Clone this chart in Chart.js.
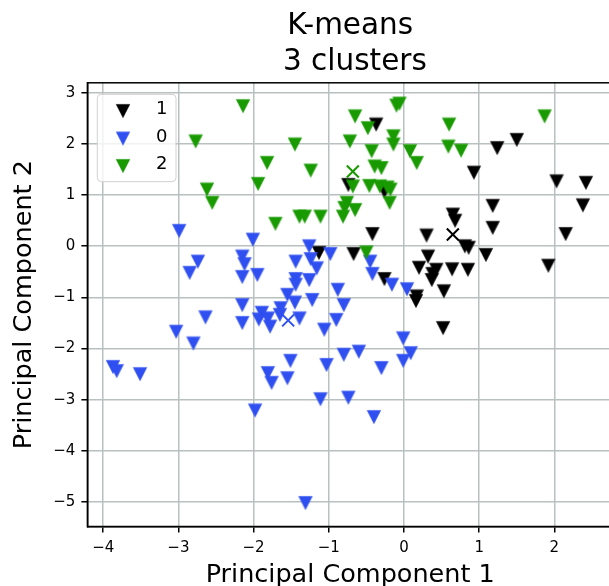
<!DOCTYPE html>
<html><head><meta charset="utf-8">
<script src="https://cdn.jsdelivr.net/npm/chart.js@4/dist/chart.umd.min.js"></script>
<style>
html,body{margin:0;padding:0;background:#fff;overflow:hidden;width:609px;height:586px}
#wrap{position:absolute;left:0;top:0;width:640px;height:586px}
</style>
</head><body><div id="wrap"><canvas id="c" width="640" height="586"></canvas></div>
<script>
// ---- data ----
const clusterLabels = ['1', '0', '2'];
const clusterColors = ['#000000', '#2f4ff0', '#189a00'];

const cluster1X = [-0.37, 1.50, 1.24, 0.93, 2.03, 2.42, 2.38, 1.18, -0.74, -0.26, 0.65, 0.68, 1.18, 2.15, -0.42, 0.30, 0.81, 0.86, 1.09, -0.67, 0.32, 0.20, 0.43, 0.38, 0.37, 0.64, 0.85, 1.92, -0.26, 0.17, 0.16, 0.53, 0.52, -1.13];
const cluster1Y = [2.38, 2.08, 1.92, 1.44, 1.27, 1.24, 0.80, 0.79, 1.20, 1.07, 0.62, 0.50, 0.36, 0.24, 0.24, 0.21, 0.00, -0.03, -0.17, -0.15, -0.20, -0.42, -0.46, -0.54, -0.66, -0.45, -0.46, -0.38, -0.64, -0.98, -1.07, -0.88, -1.60, -0.13];

const cluster0X = [-2.99, -2.01, -2.74, -2.85, -2.15, -2.12, -2.15, -1.95, -1.26, -1.24, -1.16, -0.98, -1.44, -1.44, -1.44, -1.26, -0.88, -1.55, -1.45, -1.22, -0.80, -1.64, -1.65, -1.89, -1.93, -1.81, -1.78, -1.39, -2.15, -2.15, -2.64, -3.03, -2.80, -0.90, -1.06, -3.87, -3.82, -3.51, -1.81, -1.76, -1.51, -1.55, -1.03, -0.80, -1.11, -0.74, -1.98, -1.31, -0.40, -0.45, -0.42, -0.16, 0.04, -0.01, 0.09, -0.01, -0.60, -0.30];
const cluster0Y = [0.30, 0.13, -0.30, -0.52, -0.20, -0.35, -0.60, -0.56, 0.00, -0.25, -0.43, -0.15, -0.30, -0.64, -0.75, -0.66, -0.85, -0.95, -1.10, -1.05, -1.15, -1.21, -1.34, -1.30, -1.43, -1.41, -1.57, -1.41, -1.15, -1.50, -1.39, -1.67, -1.90, -1.44, -1.63, -2.36, -2.44, -2.50, -2.48, -2.67, -2.24, -2.58, -2.32, -2.12, -2.99, -2.96, -3.21, -5.02, -3.34, -0.30, -0.54, -0.75, -0.84, -1.80, -2.09, -2.24, -2.06, -2.38];

const cluster2X = [-2.14, -2.77, -1.45, -1.82, -1.24, -1.94, -2.62, -2.55, -1.71, -1.39, -1.32, -1.11, -0.10, -0.06, -0.65, -0.48, 0.60, 1.87, -0.72, -0.14, -0.14, -0.43, 0.59, 0.76, 0.08, 0.17, -0.39, -0.30, -0.68, -0.46, -0.32, -0.18, -0.22, -0.19, -0.76, -0.79, -0.81, -0.65, -0.50];
const cluster2Y = [2.74, 2.05, 1.99, 1.63, 1.48, 1.22, 1.11, 0.85, 0.44, 0.58, 0.58, 0.58, 2.75, 2.79, 2.54, 2.31, 2.38, 2.54, 2.05, 2.15, 1.99, 1.86, 1.95, 1.87, 1.86, 1.63, 1.56, 1.53, 1.17, 1.18, 1.17, 1.11, 1.15, 0.85, 0.85, 0.75, 0.58, 0.71, -0.12];

// centroids, same order as clusterLabels
const centroidX = [0.65, -1.54, -0.68];
const centroidY = [0.23, -1.45, 1.46];

const xTicks = [-4, -3, -2, -1, 0, 1, 2];
const yTicks = [-5, -4, -3, -2, -1, 0, 1, 2, 3];

const titleLines = ['K-means', ' 3 clusters'];
const xTitle = 'Principal Component 1';
const yTitle = 'Principal Component 2';

// ---- chart ----
const FONT = 'DejaVu Sans';
const pts = (xs, ys) => xs.map((x, i) => ({x: x, y: ys[i]}));
const seriesX = [cluster1X, cluster0X, cluster2X];
const seriesY = [cluster1Y, cluster0Y, cluster2Y];
const fmt = v => (v < 0 ? '\u2212' + Math.abs(v) : String(v));

// matplotlib-like 'v' marker (equal width and height)
function triMarker(color) {
  const c = document.createElement('canvas');
  c.width = 16; c.height = 16;
  const g = c.getContext('2d');
  g.fillStyle = color;
  g.strokeStyle = color;
  g.lineWidth = 0.6;
  g.beginPath();
  g.moveTo(1.3, 1.4);
  g.lineTo(14.7, 1.4);
  g.lineTo(8, 14.6);
  g.closePath();
  g.fill();
  g.stroke();
  return c;
}
const markers = clusterColors.map(triMarker);

const datasets = [];
clusterLabels.forEach((lab, k) => {
  datasets.push({
    label: lab,
    data: pts(seriesX[k], seriesY[k]),
    backgroundColor: clusterColors[k],
    borderColor: clusterColors[k],
    pointStyle: markers[k],
    pointRadius: 7,
    pointHoverRadius: 7,
    order: [3, 2, 1][k]
  });
});
clusterLabels.forEach((lab, k) => {
  datasets.push({
    label: 'centroid ' + lab,
    data: [{x: centroidX[k], y: centroidY[k]}],
    backgroundColor: clusterColors[k],
    borderColor: clusterColors[k],
    pointStyle: 'crossRot',
    pointRadius: 8.5,
    pointHoverRadius: 8.5,
    borderWidth: 2,
    order: 0
  });
});

const framePlugin = {
  id: 'frame',
  afterDatasetsDraw(chart) {
    const {ctx, chartArea: a} = chart;
    ctx.save();
    ctx.strokeStyle = '#000';
    ctx.lineWidth = 1.5;
    ctx.strokeRect(a.left, a.top, a.right - a.left, a.bottom - a.top);
    // legend
    const bx = 97.3, by = 94.3, bw = 78.7, bh = 87.4, r = 4;
    ctx.beginPath();
    ctx.moveTo(bx + r, by);
    ctx.arcTo(bx + bw, by, bx + bw, by + bh, r);
    ctx.arcTo(bx + bw, by + bh, bx, by + bh, r);
    ctx.arcTo(bx, by + bh, bx, by, r);
    ctx.arcTo(bx, by, bx + bw, by, r);
    ctx.closePath();
    ctx.fillStyle = 'rgba(255,255,255,0.8)';
    ctx.fill();
    ctx.strokeStyle = '#d0d0d0';
    ctx.lineWidth = 1;
    ctx.stroke();
    const rowsY = [111, 138.5, 166];
    clusterLabels.forEach((lab, k) => {
      const m = markers[k];
      ctx.drawImage(m, 123 - m.width / 2, rowsY[k] - m.height / 2);
      ctx.fillStyle = '#000';
      ctx.font = '18px "' + FONT + '"';
      ctx.textAlign = 'left';
      ctx.textBaseline = 'middle';
      ctx.fillText(lab, 156, rowsY[k] - 1.5);
    });
    ctx.restore();
  }
};

const axisCommon = (ticksArr, title, isY) => ({
  type: 'linear',
  afterBuildTicks: s => { s.ticks = ticksArr.map(v => ({value: v})); },
  grid: {color: '#b8c0c0', lineWidth: 1.5, tickColor: '#000', tickLength: 6, tickWidth: 1.5, drawTicks: true},
  border: {display: true, color: '#000', width: 1.5},
  ticks: {font: {family: FONT, size: 15}, color: '#000', padding: isY ? 6 : 7, callback: fmt, autoSkip: false, maxRotation: 0},
  title: {display: true, text: title, color: '#000', font: {family: FONT, size: 25.5, lineHeight: 0.8}, padding: isY ? 14.3 : 0}
});

const xScale = Object.assign(axisCommon(xTicks, xTitle, false), {min: -4.21, max: 2.78, afterFit: s => { s.height = 59.5; }});
const yScale = Object.assign(axisCommon(yTicks, yTitle, true), {min: -5.48, max: 3.195, afterFit: s => { s.width = 87.4; }});

new Chart(document.getElementById('c'), {
  type: 'scatter',
  data: {datasets: datasets},
  options: {
    responsive: false,
    devicePixelRatio: 1,
    animation: false,
    layout: {padding: {left: 0, right: 27, top: 0, bottom: 0}},
    scales: {x: xScale, y: yScale},
    plugins: {
      legend: {display: false},
      tooltip: {enabled: false},
      title: {
        display: true,
        text: titleLines,
        color: '#000',
        fullSize: false,
        font: {family: FONT, size: 29.5, weight: 'normal', lineHeight: 36 / 29.5},
        padding: {top: 8.2, bottom: 2.6}
      }
    }
  },
  plugins: [framePlugin]
});
</script>
</body></html>
